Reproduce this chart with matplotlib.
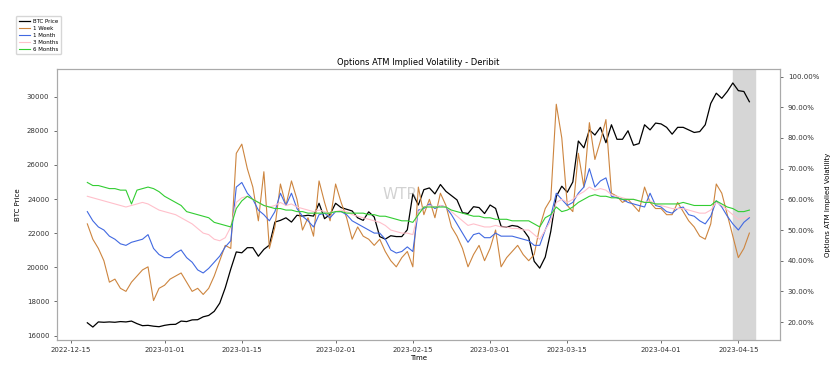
import numpy as np
import pandas as pd
import matplotlib
matplotlib.use("Agg")
import matplotlib.pyplot as plt
import matplotlib.dates as mdates
from matplotlib.ticker import PercentFormatter

# daily values, 2022-12-18 .. 2023-04-17
dates = pd.date_range("2022-12-18", "2023-04-17", freq="D")

btc_price = [
    # Dec 18-31
    16750, 16500, 16800, 16780, 16800, 16780, 16820, 16800, 16850, 16700, 16580, 16600, 16550, 16520,
    # Jan
    16600, 16650, 16660, 16850, 16820, 16920, 16930, 17100, 17180, 17420, 17900, 18800, 19900, 20900,
    20850, 21150, 21150, 20650, 21050, 21300, 22650, 22750, 22900, 22650, 23050, 23000, 23050, 23000,
    23750, 22850, 23100,
    # Feb
    23750, 23500, 23400, 23300, 22900, 22750, 23250, 22950, 21800, 21650, 21850, 21800, 21800, 22200,
    24300, 23650, 24550, 24650, 24300, 24850, 24450, 24200, 23950, 23200, 23150, 23550, 23500, 23150,
    # Mar
    23650, 23450, 22400, 22350, 22450, 22400, 22200, 21750, 20350, 19950, 20600, 22100, 24150, 24750,
    24400, 25000, 27400, 27000, 28050, 27750, 28200, 27300, 28350, 27500, 27500, 28000, 27150, 27250,
    28350, 28050, 28450,
    # Apr 1-17
    28400, 28200, 27800, 28200, 28200, 28050, 27900, 27950, 28350, 29600, 30200, 29900, 30300, 30800,
    30350, 30300, 29700,
]

iv_1w = [
    52, 47, 44, 40, 33, 34, 31, 30, 33, 35, 37, 38, 27, 31,
    32, 34, 35, 36, 33, 30, 31, 29, 31, 35, 40, 45, 44, 75,
    78, 70, 64, 53, 69, 44, 51, 65, 58, 66, 60, 50, 54, 48,
    66, 59, 53,
    65, 59, 54, 47, 51, 48, 47, 45, 47, 43, 40, 38, 41, 43,
    38, 64, 55, 60, 54, 62, 58, 51, 48, 44, 38, 42, 45, 40,
    44, 50, 38, 41, 43, 45, 42, 40, 42, 51, 57, 60, 91, 80,
    58, 56, 75, 64, 85, 73, 79, 86, 62, 61, 59, 60, 58, 56,
    64, 59, 57,
    57, 55, 55, 59, 56, 53, 51, 48, 47, 52, 65, 62, 55, 48,
    41, 44, 49,
]

iv_1m = [
    56, 53, 51, 50, 48, 47, 45.5, 45, 46, 46.5, 47, 48.5, 44, 42,
    41, 41, 42.5, 43.5, 41, 39.5, 37, 36, 37.5, 39.5, 41.5, 44.5, 46.5, 64,
    65.5, 62, 60, 56.5, 55, 53, 56, 62, 58, 62, 57, 54.5, 53, 51,
    55, 55.5, 54,
    56, 56, 55, 53, 52, 51, 50, 49, 49, 47, 43.5, 42.5, 43, 44.5,
    43, 56.5, 57, 58.5, 57, 58, 57.5, 55, 52, 49, 46, 48.5, 49, 47.5,
    47.5, 49, 48, 48, 48, 47.5, 47, 46.5, 45, 45, 50, 54.5, 62, 60,
    58, 59, 62, 64, 70, 64, 66, 67, 61, 60.5, 60, 59, 58.5, 58,
    57.5, 62, 58,
    57.5, 56, 55.5, 57, 57.5, 55, 54.5, 53, 52, 54.5, 59.5, 57.5, 54.5, 52,
    50, 52.5, 54,
]

iv_3m = [
    61, 60.5, 60, 59.5, 59, 58.5, 58, 57.5, 58, 58.5, 59, 58.5, 57.5, 56.5,
    56, 55.5, 55, 54, 53, 52, 50.5, 49, 48.5, 47, 46.5, 47.5, 51, 59,
    60.5, 61, 60, 59, 58, 57.5, 58, 59, 58, 58.5, 57.5, 57, 56.5, 56,
    56.5, 56, 55.5,
    56, 56.5, 56, 55, 54.5, 54, 53.5, 53, 52.5, 51.5, 50, 49.5, 49, 49,
    48.5, 56, 57.5, 58, 57.5, 58, 57.5, 56, 54.5, 53, 51.5, 52, 51.5, 51,
    51, 51.5, 51, 51, 50.5, 50.5, 50, 50, 48.5, 47, 50, 53, 59, 60,
    59, 60, 61.5, 62.5, 64, 63, 63.5, 63, 61.5, 61, 60.5, 60, 60, 59.5,
    59, 59.5, 58.5,
    58, 57.5, 57, 57, 57, 56.5, 56, 55.5, 55.5, 56.5, 59, 58, 56.5, 55,
    53.5, 54, 54.5,
]

iv_6m = [
    65.5, 64.5, 64.5, 64, 63.5, 63.5, 63, 63, 58.5, 63, 63.5, 64, 63.5, 62.5,
    61, 60, 59, 58, 56, 55.5, 55, 54.5, 54, 52.5, 52, 51.5, 51, 57,
    59.5, 61, 60, 59, 58, 57.5, 57, 57, 56.5, 56.5, 56, 56, 55.5, 55.5,
    55.5, 55.5, 55.5,
    56, 56, 55.5, 55.5, 55.5, 55.5, 55, 55, 54.5, 54.5, 54, 53.5, 53, 53,
    52.5, 55, 57.5, 57.5, 57.5, 57.5, 57.5, 56.5, 56, 55.5, 55, 54.5, 54.5, 54,
    54, 53.5, 53.5, 53.5, 53, 53, 53, 53, 52, 51, 54, 55, 57.5, 56,
    56.5, 57.5, 59, 60, 61, 61.5, 61, 61, 60.5, 60.5, 60, 60, 60, 59.5,
    59, 59, 58.5,
    58.5, 58.5, 58.5, 58.5, 59, 58.5, 58, 58, 58, 58, 59.5, 58.5, 57.5, 57,
    56, 56, 56.5,
]

tick_dates = ["2022-12-15", "2023-01-01", "2023-01-15", "2023-02-01", "2023-02-15",
              "2023-03-01", "2023-03-15", "2023-04-01", "2023-04-15"]

fig = plt.figure(figsize=(8.38, 3.81), dpi=100)
ax = fig.add_axes([0.068, 0.108, 0.863, 0.711])
ax2 = ax.twinx()

ax.axvspan(pd.Timestamp("2023-04-14"), pd.Timestamp("2023-04-18"), color="#d6d6d6", zorder=0)
l_btc, = ax.plot(dates, btc_price, color="black", lw=0.9, label="BTC Price")
l_1w, = ax2.plot(dates, iv_1w, color="peru", lw=0.8, label="1 Week")
l_1m, = ax2.plot(dates, iv_1m, color="royalblue", lw=0.8, label="1 Month")
l_3m, = ax2.plot(dates, iv_3m, color="pink", lw=0.8, label="3 Months")
l_6m, = ax2.plot(dates, iv_6m, color="limegreen", lw=0.8, label="6 Months")

ax.set_xlim(pd.Timestamp("2022-12-12 12:00"), pd.Timestamp("2023-04-22 14:00"))
ax.set_xticks(pd.to_datetime(tick_dates))
ax.xaxis.set_major_formatter(mdates.DateFormatter("%Y-%m-%d"))
ax.set_ylim(15750, 31620)
ax.set_yticks(np.arange(16000, 30001, 2000))
ax2.set_ylim(14.2, 102.5)
ax2.set_yticks(np.arange(20, 101, 10))
ax2.yaxis.set_major_formatter(PercentFormatter(xmax=100, decimals=2))

for a in (ax, ax2):
    a.tick_params(labelsize=5, colors="#333333", length=2, width=0.5)
    for s in a.spines.values():
        s.set_color("#aaaaaa")
        s.set_linewidth(0.8)

ax.set_title("Options ATM Implied Volatility - Deribit", fontsize=6, pad=3)
ax.set_xlabel("Time", fontsize=5, labelpad=1)
ax.set_ylabel("BTC Price", fontsize=5)
ax2.set_ylabel("Options ATM Implied Volatility", fontsize=5)

# watermark
ax2.text(0.475, 0.535, "WTR", transform=ax.transAxes, fontsize=11, color="gray",
         alpha=0.35, ha="center", va="center", zorder=10)

fig.legend(handles=[l_btc, l_1w, l_1m, l_3m, l_6m], loc="upper left",
           bbox_to_anchor=(0.016, 0.965), fontsize=4, frameon=True,
           handlelength=2.0, borderpad=0.5, labelspacing=0.35, handletextpad=0.6)

fig.savefig("out.png", dpi=100)
